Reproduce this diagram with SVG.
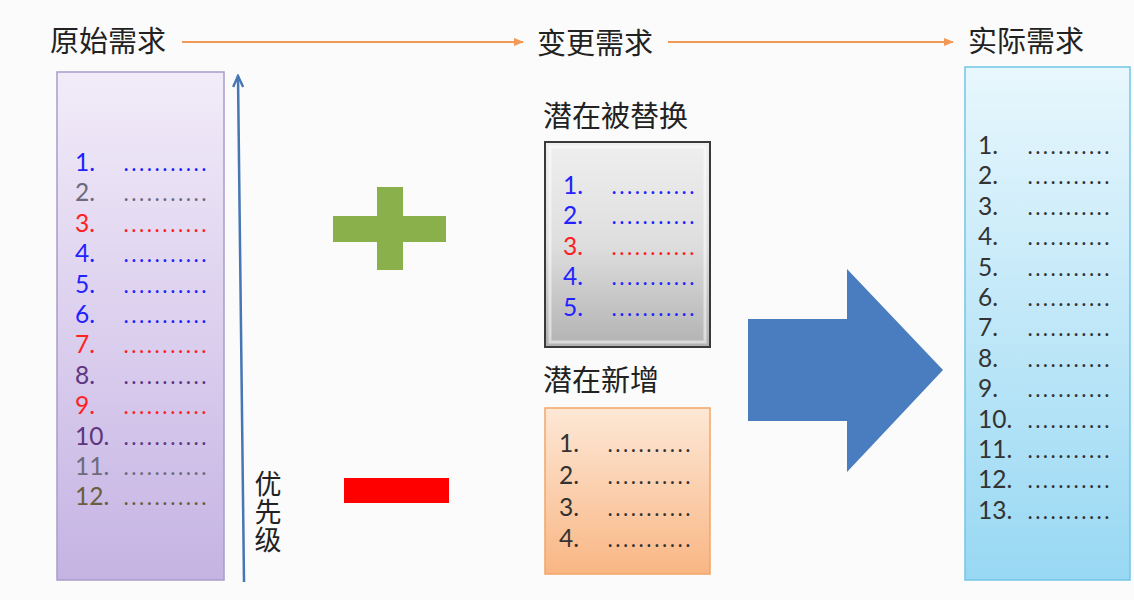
<svg xmlns="http://www.w3.org/2000/svg" width="1134" height="600" viewBox="0 0 1134 600">
<defs>
<linearGradient id="gPurple" x1="0" y1="0" x2="0" y2="1"><stop offset="0" stop-color="#f2ecf9"/><stop offset="1" stop-color="#c5b3e3"/></linearGradient>
<linearGradient id="gGray" x1="0" y1="0" x2="0" y2="1"><stop offset="0" stop-color="#efefef"/><stop offset="0.5" stop-color="#dedede"/><stop offset="1" stop-color="#b2b2b2"/></linearGradient>
<linearGradient id="gOrange" x1="0" y1="0" x2="0" y2="1"><stop offset="0" stop-color="#fde8d6"/><stop offset="1" stop-color="#f9b684"/></linearGradient>
<linearGradient id="gCyan" x1="0" y1="0" x2="0" y2="1"><stop offset="0" stop-color="#e8f7fd"/><stop offset="1" stop-color="#98d8f3"/></linearGradient>
<marker id="mOrange" viewBox="0 0 10 10" refX="9" refY="5" markerWidth="10" markerHeight="10" markerUnits="userSpaceOnUse" orient="auto"><path d="M0,1 L10,5 L0,9 Z" fill="#f29a55"/></marker>
<marker id="mBlue" viewBox="0 0 14 12" refX="12" refY="6" markerWidth="14" markerHeight="12" markerUnits="userSpaceOnUse" orient="auto"><path d="M1,1 L12,6 L1,11" fill="none" stroke="#4676b4" stroke-width="2.4"/></marker>
</defs>
<style>
.cjk{font-family:"Noto Sans CJK SC","Noto Sans",sans-serif;fill:#222;}
.title{font-size:29px;}
.num{font-family:Lato,"Open Sans",sans-serif;font-size:24.5px;}
.dot{font-family:Lato,"Open Sans",sans-serif;font-size:18px;font-weight:700;}
.b{fill:#2222ff;}.r{fill:#ff2222;}.g{fill:#6e6a7e;}.p{fill:#5e3580;}.o{fill:#6a5e3e;}.k{fill:#333333;}
</style>
<rect width="1134" height="600" fill="#fbfbfb"/>

<g id="label-original"><text class="cjk title" x="50" y="52">原始需求</text></g>
<g id="label-change"><text class="cjk title" x="537" y="54">变更需求</text></g>
<g id="label-actual"><text class="cjk title" x="968" y="52">实际需求</text></g>

<g id="connectors" fill="none">
<line x1="182" y1="42" x2="523" y2="42" stroke="#f29a55" stroke-width="2" marker-end="url(#mOrange)"/>
<line x1="668" y1="42" x2="953" y2="42" stroke="#f29a55" stroke-width="2" marker-end="url(#mOrange)"/>
</g>

<g id="original-list">
<rect x="57" y="72" width="167" height="508" fill="url(#gPurple)" stroke="#a99cc9" stroke-width="1.5"/>
<g class="num">
<text class="b" x="75" y="171">1.</text>
<text class="g" x="75" y="201">2.</text>
<text class="r" x="75" y="232">3.</text>
<text class="b" x="75" y="262">4.</text>
<text class="b" x="75" y="293">5.</text>
<text class="b" x="75" y="323">6.</text>
<text class="r" x="75" y="353">7.</text>
<text class="p" x="75" y="384">8.</text>
<text class="r" x="75" y="414">9.</text>
<text class="p" x="75" y="445">10.</text>
<text class="g" x="75" y="475">11.</text>
<text class="o" x="75" y="505">12.</text>
</g>
<g class="dot">
<text class="b" x="124" y="171" textLength="82" lengthAdjust="spacing">...........</text>
<text class="g" x="124" y="201" textLength="82" lengthAdjust="spacing">...........</text>
<text class="r" x="124" y="232" textLength="82" lengthAdjust="spacing">...........</text>
<text class="b" x="124" y="262" textLength="82" lengthAdjust="spacing">...........</text>
<text class="b" x="124" y="293" textLength="82" lengthAdjust="spacing">...........</text>
<text class="b" x="124" y="323" textLength="82" lengthAdjust="spacing">...........</text>
<text class="r" x="124" y="353" textLength="82" lengthAdjust="spacing">...........</text>
<text class="p" x="124" y="384" textLength="82" lengthAdjust="spacing">...........</text>
<text class="r" x="124" y="414" textLength="82" lengthAdjust="spacing">...........</text>
<text class="p" x="124" y="445" textLength="82" lengthAdjust="spacing">...........</text>
<text class="g" x="124" y="475" textLength="82" lengthAdjust="spacing">...........</text>
<text class="o" x="124" y="505" textLength="82" lengthAdjust="spacing">...........</text>
</g>
</g>

<g id="priority">
<line x1="244" y1="582" x2="238" y2="76" stroke="#4676b4" stroke-width="2.5" marker-end="url(#mBlue)"/>
<text class="cjk" font-size="27" x="268" y="470" writing-mode="tb" letter-spacing="1">优先级</text>
</g>

<g id="plus"><path d="M377,187 H403 V216 H446 V242 H403 V270 H377 V242 H333 V216 H377 Z" fill="#8ab04c"/></g>
<g id="minus"><rect x="344" y="478" width="105" height="25" fill="#ff0000"/></g>

<g id="replaced">
<text class="cjk title" x="543" y="127">潜在被替换</text>
<rect x="545" y="142" width="165" height="205" fill="url(#gGray)" stroke="#3a3a3a" stroke-width="2"/>
<rect x="550" y="147" width="155" height="195" fill="none" stroke="#ffffff" stroke-opacity="0.5" stroke-width="3"/>
<g class="num">
<text class="b" x="563" y="194">1.</text>
<text class="b" x="563" y="224">2.</text>
<text class="r" x="563" y="255">3.</text>
<text class="b" x="563" y="285">4.</text>
<text class="b" x="563" y="316">5.</text>
</g>
<g class="dot">
<text class="b" x="612" y="194" textLength="82" lengthAdjust="spacing">...........</text>
<text class="b" x="612" y="224" textLength="82" lengthAdjust="spacing">...........</text>
<text class="r" x="612" y="255" textLength="82" lengthAdjust="spacing">...........</text>
<text class="b" x="612" y="285" textLength="82" lengthAdjust="spacing">...........</text>
<text class="b" x="612" y="316" textLength="82" lengthAdjust="spacing">...........</text>
</g>
</g>

<g id="added">
<text class="cjk title" x="543" y="391">潜在新增</text>
<rect x="545" y="408" width="165" height="166" fill="url(#gOrange)" stroke="#f4a566" stroke-width="1.5"/>
<g class="num k">
<text x="559" y="452">1.</text>
<text x="559" y="484">2.</text>
<text x="559" y="516">3.</text>
<text x="559" y="547">4.</text>
</g>
<g class="dot k">
<text x="608" y="452" textLength="82" lengthAdjust="spacing">...........</text>
<text x="608" y="484" textLength="82" lengthAdjust="spacing">...........</text>
<text x="608" y="516" textLength="82" lengthAdjust="spacing">...........</text>
<text x="608" y="547" textLength="82" lengthAdjust="spacing">...........</text>
</g>
</g>

<g id="big-arrow"><path d="M748,319 H847 V269 L943,370 L847,472 V421 H748 Z" fill="#4a7dc0"/></g>

<g id="actual-list">
<rect x="965" y="67" width="165" height="513" fill="url(#gCyan)" stroke="#72c6e6" stroke-width="1.5"/>
<g class="num k">
<text x="978" y="154">1.</text>
<text x="978" y="184">2.</text>
<text x="978" y="215">3.</text>
<text x="978" y="245">4.</text>
<text x="978" y="276">5.</text>
<text x="978" y="306">6.</text>
<text x="978" y="336">7.</text>
<text x="978" y="367">8.</text>
<text x="978" y="397">9.</text>
<text x="978" y="428">10.</text>
<text x="978" y="458">11.</text>
<text x="978" y="488">12.</text>
<text x="978" y="519">13.</text>
</g>
<g class="dot k">
<text x="1028" y="154" textLength="81" lengthAdjust="spacing">...........</text>
<text x="1028" y="184" textLength="81" lengthAdjust="spacing">...........</text>
<text x="1028" y="215" textLength="81" lengthAdjust="spacing">...........</text>
<text x="1028" y="245" textLength="81" lengthAdjust="spacing">...........</text>
<text x="1028" y="276" textLength="81" lengthAdjust="spacing">...........</text>
<text x="1028" y="306" textLength="81" lengthAdjust="spacing">...........</text>
<text x="1028" y="336" textLength="81" lengthAdjust="spacing">...........</text>
<text x="1028" y="367" textLength="81" lengthAdjust="spacing">...........</text>
<text x="1028" y="397" textLength="81" lengthAdjust="spacing">...........</text>
<text x="1028" y="428" textLength="81" lengthAdjust="spacing">...........</text>
<text x="1028" y="458" textLength="81" lengthAdjust="spacing">...........</text>
<text x="1028" y="488" textLength="81" lengthAdjust="spacing">...........</text>
<text x="1028" y="519" textLength="81" lengthAdjust="spacing">...........</text>
</g>
</g>
</svg>
